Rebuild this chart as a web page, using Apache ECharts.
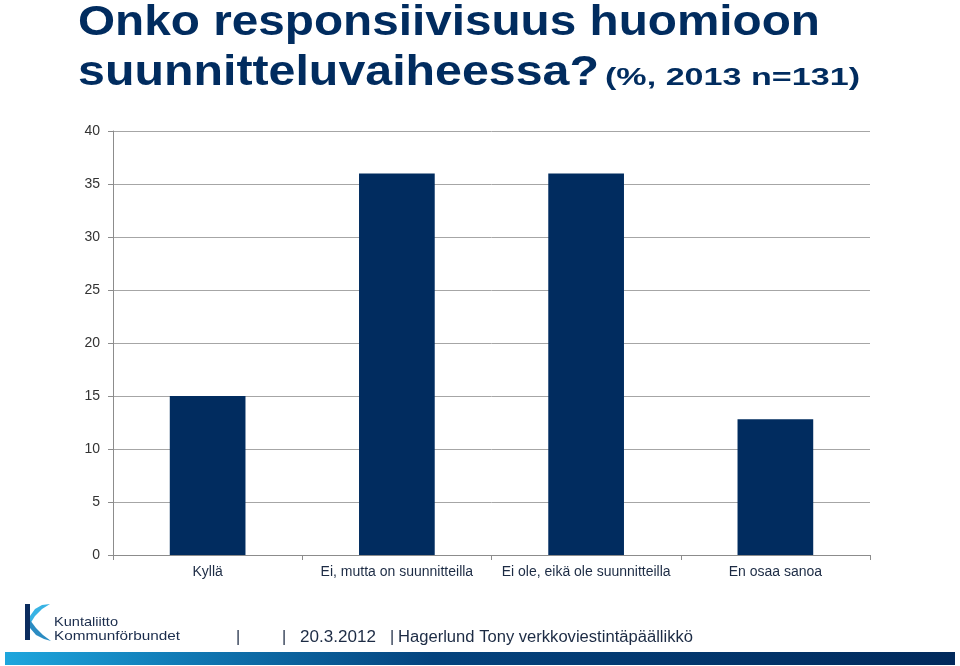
<!DOCTYPE html>
<html>
<head>
<meta charset="utf-8">
<script src="https://cdn.jsdelivr.net/npm/echarts@6/dist/echarts.min.js"></script>
<style>
html,body{margin:0;padding:0;background:#fff;}
#chart{width:960px;height:666px;}
</style>
</head>
<body>
<div id="chart"></div>
<script>
// ---- data ----
const titleLine1 = 'Onko responsiivisuus huomioon';
const titleLine2 = 'suunnitteluvaiheessa?';
const titleNote = '(%, 2013 n=131)';
const categories = ['Kyllä', 'Ei, mutta on suunnitteilla', 'Ei ole, eikä ole suunnitteilla', 'En osaa sanoa'];
const values = [15.0, 36.0, 36.0, 12.8];
const yTicks = [0, 5, 10, 15, 20, 25, 30, 35, 40];
const footerDate = '20.3.2012';
const footerAuthor = 'Hagerlund Tony verkkoviestintäpäällikkö';
const logoLine1 = 'Kuntaliitto';
const logoLine2 = 'Kommunförbundet';

const NAVY = '#012c5f';
const ctx = document.createElement('canvas').getContext('2d');
function fitScale(text, font, target) {
  ctx.font = font;
  return target / ctx.measureText(text).width;
}
function fitText(text, x, y, size, weight, family, target, color, vAlign) {
  const font = weight + ' ' + size + 'px ' + family;
  const s = fitScale(text, font, target);
  return {
    type: 'text', x: x, y: y, scaleX: s, originX: 0, originY: 0, z: 10,
    style: { text: text, fill: color, font: font, textVerticalAlign: vAlign || 'middle', textAlign: 'left' }
  };
}

const chart = echarts.init(document.getElementById('chart'));
const fam = '"Liberation Sans", Arial, sans-serif';
const option = {
  backgroundColor: '#ffffff',
  animation: false,
  grid: { left: 113, right: 90, top: 131, bottom: 111, containLabel: false },
  xAxis: {
    type: 'category',
    data: categories,
    axisLine: { show: true, lineStyle: { color: '#8c8c8c', width: 1 } },
    axisTick: { show: true, length: 5, alignWithLabel: false, lineStyle: { color: '#8c8c8c' } },
    axisLabel: { color: '#1c2b44', fontSize: 14, fontFamily: fam, margin: 10, interval: 0 },
    splitLine: { show: false }
  },
  yAxis: {
    type: 'value',
    min: yTicks[0], max: yTicks[yTicks.length - 1], interval: yTicks[1] - yTicks[0],
    axisLine: { show: true, lineStyle: { color: '#8c8c8c', width: 1 } },
    axisTick: { show: true, length: 5, lineStyle: { color: '#8c8c8c' } },
    axisLabel: { color: '#333', fontSize: 14, fontFamily: fam, margin: 13 },
    splitLine: { show: true, lineStyle: { color: '#a6a6a6', width: 1 } }
  },
  series: [{
    type: 'bar',
    data: values,
    barWidth: '40%',
    itemStyle: { color: NAVY }
  }],
  graphic: [
    fitText(titleLine1, 78, 23, 42, 'bold', fam, 742, NAVY),
    fitText(titleLine2, 78, 73, 42, 'bold', fam, 521, NAVY),
    fitText(titleNote, 605, 78, 24, 'bold', fam, 255, NAVY),
    // logo
    { type: 'rect', shape: { x: 25, y: 604, width: 5, height: 36 }, style: { fill: '#0b2c5e' } },
    { type: 'polygon', shape: { points: [[50,604],[42,605],[35,609],[30,616],[30,624],[35,616],[42,609]] }, style: { fill: '#38b3e4' } },
    { type: 'polygon', shape: { points: [[30,620],[30,628],[36,635],[44,639],[51,641],[43,635],[36,628]] }, style: { fill: '#2b8cc2' } },
    fitText(logoLine1, 54, 622, 13, 'normal', fam, 64, '#1a2c4c'),
    fitText(logoLine2, 54, 636, 13, 'normal', fam, 126, '#1a2c4c'),
    // footer text
    { type: 'text', x: 236, y: 638, z: 10, style: { text: '|', fill: '#1c2b44', font: '16px ' + fam, textVerticalAlign: 'middle' } },
    { type: 'text', x: 282, y: 638, z: 10, style: { text: '|', fill: '#1c2b44', font: '16px ' + fam, textVerticalAlign: 'middle' } },
    fitText(footerDate, 300, 638, 16, 'normal', fam, 76, '#1c2b44'),
    { type: 'text', x: 390, y: 638, z: 10, style: { text: '|', fill: '#1c2b44', font: '16px ' + fam, textVerticalAlign: 'middle' } },
    fitText(footerAuthor, 398, 638, 16, 'normal', fam, 295, '#1c2b44'),
    // bottom gradient band
    { type: 'rect', shape: { x: 5, y: 652, width: 950, height: 13 }, z: 5,
      style: { fill: new echarts.graphic.LinearGradient(0, 0, 1, 0, [
        { offset: 0, color: '#1ea6dd' },
        { offset: 0.18, color: '#117bb6' },
        { offset: 0.45, color: '#04437e' },
        { offset: 1, color: '#012a5c' }
      ]) } }
  ]
};
chart.setOption(option);
</script>
</body>
</html>
